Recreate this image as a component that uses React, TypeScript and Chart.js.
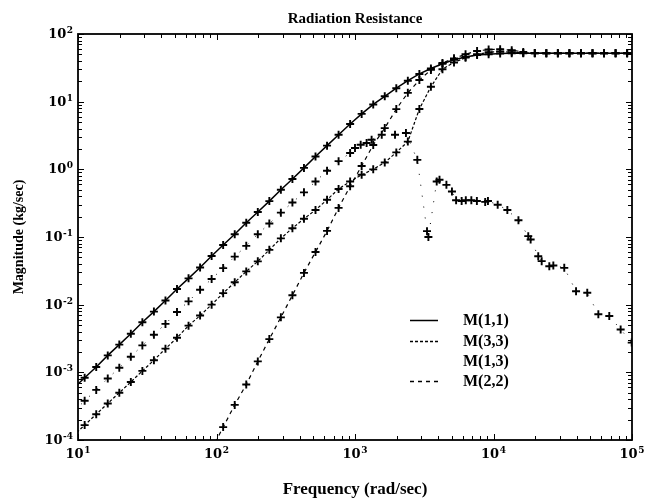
import React, { useEffect, useRef } from "react";
import { Chart, registerables } from "chart.js";

Chart.register(...registerables);

// ---- text ----
const chartTitle = "Radiation Resistance";
const xAxisTitle = "Frequency (rad/sec)";
const yAxisTitle = "Magnitude (kg/sec)";
const seriesNames = ["M(1,1)", "M(3,3)", "M(1,3)", "M(2,2)"];
const xTickExponents = [1, 2, 3, 4, 5];
const yTickExponents = [2, 1, 0, -1, -2, -3, -4];

// ---- data (rad/sec, kg/sec) ----
const freqGrid = [
  9.222, 11.17, 13.54, 16.4, 19.87, 24.07, 29.16, 35.33, 42.81, 51.86, 62.83, 76.12,
  92.22, 111.7, 135.4, 164.0, 198.7, 240.7, 291.6, 353.3, 428.1, 518.6, 628.3, 761.2,
  922.2, 1117, 1354, 1640, 1987, 2407, 2916, 3533, 4281, 5186, 6283, 7612,
  9222, 11170, 13540, 16400, 19870, 24070, 29160, 35330, 42810, 51860, 62830, 76120,
  92220, 111700,
];

const magM11 = [
  5.75e-4, 8.3e-4, 1.2e-3, 1.78e-3, 2.57e-3, 3.72e-3, 5.5e-3, 7.9e-3, 0.0115, 0.017, 0.0245, 0.0355,
  0.0525, 0.076, 0.11, 0.162, 0.234, 0.339, 0.5, 0.72, 1.05, 1.55, 2.24, 3.24,
  4.68, 6.6, 9.1, 12.0, 15.8, 20.4, 25.7, 30.9, 36.3, 41.7, 45.7, 49.0,
  50.1, 51.3, 51.9, 51.9, 51.9, 51.9, 51.9, 51.9, 51.9, 51.9, 51.9, 51.9,
  51.9, 51.9,
];

const magM33 = [
  1.15e-4, 1.66e-4, 2.4e-4, 3.47e-4, 5.0e-4, 7.2e-4, 1.05e-3, 1.51e-3, 2.24e-3, 3.24e-3, 4.9e-3, 6.9e-3,
  0.01, 0.0148, 0.0214, 0.031, 0.0437, 0.0646, 0.0955, 0.135, 0.186, 0.251, 0.355, 0.513,
  0.66, 0.83, 1.0, 1.26, 1.78, 2.57, 7.8, 16.6, 30.2, 38.0, 44.7, 50.1,
  53.7, 55.0, 53.7, 52.5, 51.9, 51.9, 51.9, 51.9, 51.9, 51.9, 51.9, 51.9,
  51.9, 51.9,
];

const magM22 = [
  null, null, null, null, null, null, null, null, null, null, null, null,
  7.2e-5, 1.55e-4, 3.3e-4, 6.6e-4, 1.45e-3, 3.1e-3, 6.5e-3, 0.0138, 0.0295, 0.06, 0.123, 0.269,
  0.562, 1.12, 2.29, 4.07, 7.76, 13.5, 20.9, 29.5, 37.2, 43.7, 50.1, 56.2,
  58.9, 59.6, 57.5, 54.3, 52.5, 51.9, 51.9, 51.9, 51.9, 51.9, 51.9, 51.9,
  51.9, 51.9,
];

const freqM13 = [
  9.222, 11.17, 13.54, 16.4, 19.87, 24.07, 29.16, 35.33, 42.81, 51.86, 62.83, 76.12,
  92.22, 111.7, 135.4, 164.0, 198.7, 240.7, 291.6, 353.3, 428.1, 518.6, 628.3, 761.2,
  922.2, 1000, 1099, 1213, 1318, 1560, 1945, 2333, 2818, 3311, 3388, 3890,
  4074, 4571, 5012, 5370, 5888, 6310, 6918, 7586, 8710, 9120, 10720, 12590,
  15140, 17820, 18540, 21040, 22280, 25290, 27040, 32430, 39450, 47530, 57150, 68550,
  82800, 99540,
];

const magM13 = [
  2.6e-4, 3.8e-4, 5.5e-4, 8.1e-4, 1.17e-3, 1.7e-3, 2.5e-3, 3.6e-3, 5.2e-3, 7.8e-3, 0.0112, 0.0166,
  0.024, 0.0347, 0.0513, 0.074, 0.11, 0.158, 0.229, 0.324, 0.457, 0.66, 0.955, 1.32,
  1.74, 2.07, 2.31, 2.45, 2.74, 3.24, 3.24, 3.44, 1.38, 0.122, 0.1, 0.66,
  0.7, 0.59, 0.47, 0.35, 0.34, 0.35, 0.35, 0.34, 0.33, 0.34, 0.3, 0.25,
  0.177, 0.103, 0.092, 0.052, 0.044, 0.037, 0.038, 0.035, 0.0158, 0.015, 0.0072, 0.0068,
  0.0043, 0.00275,
];

const FONT = "'Liberation Serif', 'Times New Roman', serif";
const TICK_FONT = "'DejaVu Serif', serif";

function toPoints(xs: number[], ys: (number | null)[]) {
  return xs
    .map((x, i) => ({ x, y: ys[i] }))
    .filter((p) => p.y !== null && p.y !== undefined) as { x: number; y: number }[];
}

function makeDataset(label: string, xs: number[], ys: (number | null)[], width: number, dash: number[]) {
  return {
    label,
    data: toPoints(xs, ys),
    borderColor: "#000",
    backgroundColor: "#000",
    borderWidth: width,
    borderDash: dash,
    tension: 0,
    fill: false,
    pointStyle: "cross" as const,
    pointRadius: 4,
    pointBorderWidth: 1.9,
    pointBorderColor: "#000",
    pointBackgroundColor: "#000",
  };
}

const legendDashes: (number[] | null)[] = [[], [3, 2], null, [4, 4]];

function drawPow(ctx: CanvasRenderingContext2D, exp: number, x: number, baseline: number, align: "center" | "right") {
  const base = "10";
  const sup = exp < 0 ? "-" + String(-exp) : String(exp);
  ctx.font = `bold 13px ${TICK_FONT}`;
  const wb = ctx.measureText(base).width;
  ctx.font = `bold 9px ${TICK_FONT}`;
  const ws = ctx.measureText(sup).width;
  const total = wb + ws + 0.5;
  const x0 = align === "center" ? x - total / 2 : x - total;
  ctx.textAlign = "left";
  ctx.textBaseline = "alphabetic";
  ctx.font = `bold 13px ${TICK_FONT}`;
  ctx.fillText(base, x0, baseline);
  ctx.font = `bold 9px ${TICK_FONT}`;
  ctx.fillText(sup, x0 + wb + 0.5, baseline - 5);
}

const decorPlugin = {
  id: "decor",
  afterDraw(chart: any) {
    const { ctx, chartArea: a } = chart;
    const xs = chart.scales.x;
    const ys = chart.scales.y;
    ctx.save();
    ctx.fillStyle = "#000";
    ctx.strokeStyle = "#000";

    // inward tick marks on all four sides
    ctx.lineWidth = 1;
    ctx.beginPath();
    for (let d = 1; d <= 5; d++) {
      for (let m = 1; m <= 9; m++) {
        const v = m * Math.pow(10, d);
        if (v > 1e5 * 1.0001) break;
        const px = Math.round(xs.getPixelForValue(v)) + 0.5;
        const len = m === 1 ? 6 : 4;
        ctx.moveTo(px, a.bottom);
        ctx.lineTo(px, a.bottom - len);
        ctx.moveTo(px, a.top);
        ctx.lineTo(px, a.top + len);
      }
    }
    for (let d = -4; d <= 2; d++) {
      for (let m = 1; m <= 9; m++) {
        const v = m * Math.pow(10, d);
        if (v > 100 * 1.0001) break;
        const py = Math.round(ys.getPixelForValue(v)) + 0.5;
        const len = m === 1 ? 6 : 4;
        ctx.moveTo(a.left, py);
        ctx.lineTo(a.left + len, py);
        ctx.moveTo(a.right, py);
        ctx.lineTo(a.right - len, py);
      }
    }
    ctx.stroke();

    // frame
    ctx.lineWidth = 1.8;
    ctx.strokeRect(a.left, a.top, a.right - a.left, a.bottom - a.top);

    // tick labels
    xTickExponents.forEach((e) => {
      const px = xs.getPixelForValue(Math.pow(10, e));
      drawPow(ctx, e, px, a.bottom + 18, "center");
    });
    yTickExponents.forEach((e) => {
      const py = ys.getPixelForValue(Math.pow(10, e));
      drawPow(ctx, e, a.left - 5, py + 4, "right");
    });

    // title and axis titles
    const cx = (a.left + a.right) / 2;
    ctx.textAlign = "center";
    ctx.textBaseline = "alphabetic";
    ctx.font = `bold 15px ${FONT}`;
    ctx.fillText(chartTitle, cx, 23);
    ctx.font = `bold 17px ${FONT}`;
    ctx.fillText(xAxisTitle, cx, 494);
    ctx.save();
    ctx.translate(23, (a.top + a.bottom) / 2);
    ctx.rotate(-Math.PI / 2);
    ctx.font = `bold 14px ${FONT}`;
    ctx.fillText(yAxisTitle, 0, 0);
    ctx.restore();

    // legend
    const lx0 = 410;
    const lx1 = 438;
    const tx = 463;
    const rows = [320, 341, 361, 381];
    seriesNames.forEach((name, i) => {
      const y = rows[i];
      const dash = legendDashes[i];
      if (dash) {
        ctx.beginPath();
        ctx.setLineDash(dash);
        ctx.lineWidth = i === 0 ? 1.5 : 1.3;
        ctx.moveTo(lx0, y + 0.5);
        ctx.lineTo(lx1, y + 0.5);
        ctx.stroke();
        ctx.setLineDash([]);
      }
      ctx.textAlign = "left";
      ctx.font = `bold 16px ${FONT}`;
      ctx.fillText(name, tx, y + 5);
    });
    ctx.restore();
  },
};

export default function App() {
  const ref = useRef<HTMLCanvasElement>(null);
  useEffect(() => {
    const canvas = ref.current;
    if (!canvas) return;
    const datasets = [
      makeDataset(seriesNames[0], freqGrid, magM11, 1.5, []),
      makeDataset(seriesNames[1], freqGrid, magM33, 1.2, [3, 2]),
      makeDataset(seriesNames[2], freqM13, magM13, 1, [1, 10]),
      makeDataset(seriesNames[3], freqGrid, magM22, 1.2, [4, 4]),
    ];
    const chart = new Chart(canvas, {
      type: "line",
      data: { datasets },
      options: {
        responsive: false,
        animation: false,
        events: [],
        layout: { padding: { top: 34, right: 13, left: 0, bottom: 0 } },
        plugins: {
          legend: { display: false },
          title: { display: false },
          tooltip: { enabled: false },
        },
        scales: {
          x: {
            type: "logarithmic",
            min: 10,
            max: 1e5,
            position: "bottom",
            grid: { display: false },
            border: { display: false },
            ticks: { display: false },
            afterFit: (s: any) => {
              s.height = 63;
            },
          },
          y: {
            type: "logarithmic",
            min: 1e-4,
            max: 100,
            position: "left",
            grid: { display: false },
            border: { display: false },
            ticks: { display: false },
            afterFit: (s: any) => {
              s.width = 78;
            },
          },
        },
      },
      plugins: [decorPlugin],
    } as any);
    return () => chart.destroy();
  }, []);
  return (
    <div style={{ position: "fixed", left: 0, top: 0, width: 645, height: 503, background: "#fff" }}>
      <canvas ref={ref} width={645} height={503} style={{ display: "block", width: 645, height: 503 }} />
    </div>
  );
}
